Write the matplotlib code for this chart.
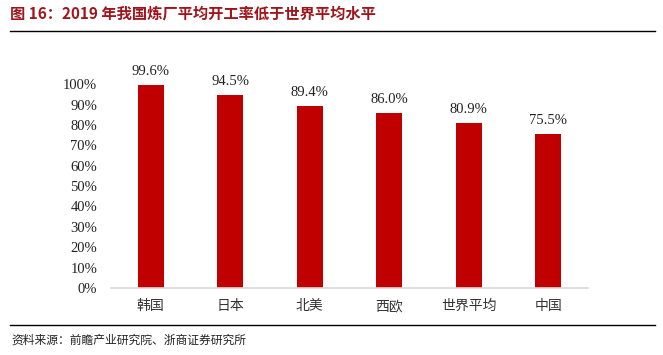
import matplotlib.pyplot as plt
from matplotlib.lines import Line2D
from matplotlib.ticker import PercentFormatter

regions = ['韩国', '日本', '北美', '西欧', '世界平均', '中国']
rates = [99.6, 94.5, 89.4, 86.0, 80.9, 75.5]
yticks = list(range(0, 101, 10))

title = '图 16：2019 年我国炼厂平均开工率低于世界平均水平'
source = '资料来源：前瞻产业研究院、浙商证券研究所'

cjk = ['Noto Sans CJK SC', 'DejaVu Sans']
serif = ['Liberation Serif', 'DejaVu Serif']

fig = plt.figure(figsize=(6.63, 3.55), dpi=100)
ax = fig.add_axes([0.1674, 0.1887, 0.7195, 0.5741])

x = range(len(regions))
bars = ax.bar(x, rates, width=0.33, color='#C00000')
for b, v in zip(bars, rates):
    ax.text(b.get_x() + b.get_width() / 2, v + 3.5, f'{v:.1f}%',
            ha='center', va='bottom', fontsize=10.5, family=serif, color='#222222')

ax.set_xlim(-0.5, len(regions) - 0.5)
ax.set_ylim(0, 100)
ax.set_yticks(yticks)
ax.yaxis.set_major_formatter(PercentFormatter(decimals=0))
ax.set_xticks(list(x))
ax.set_xticklabels(regions, family=cjk, fontsize=10, color='#333333',
                   fontweight='light')
for lab in ax.get_yticklabels():
    lab.set_family(serif)
    lab.set_fontsize(10.5)
    lab.set_color('#222222')
ax.tick_params(axis='y', length=0, pad=10)
ax.tick_params(axis='x', length=0, pad=8)
for s in ['top', 'right', 'left']:
    ax.spines[s].set_visible(False)
ax.spines['bottom'].set_color('#D9D9D9')
ax.spines['bottom'].set_linewidth(1.2)

fig.text(0.015, 0.962, title, ha='left', va='center', fontsize=11,
         fontweight='bold', color='#A0151C', family=cjk)
fig.add_artist(Line2D([0.015, 0.988], [0.913, 0.913], color='black', lw=1))
fig.add_artist(Line2D([0.015, 0.988], [0.085, 0.085], color='black', lw=1))
fig.text(0.018, 0.042, source, ha='left', va='center', fontsize=8.5,
         color='#222222', family=cjk, fontweight='light')

fig.savefig('out.png', dpi=100)
